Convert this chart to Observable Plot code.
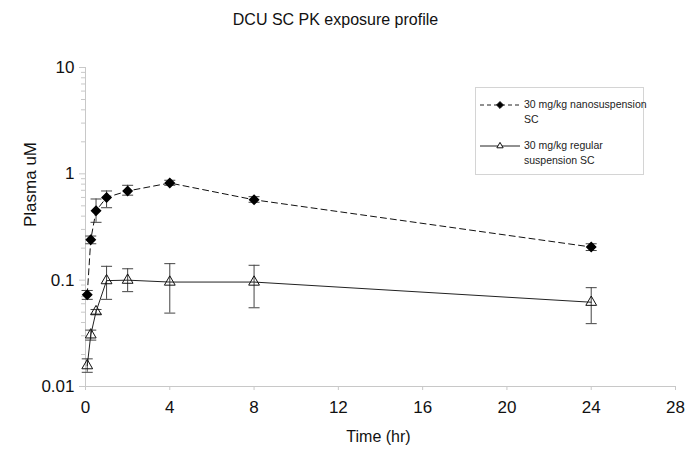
<!DOCTYPE html>
<html>
<head>
<meta charset="utf-8">
<script src="https://cdn.jsdelivr.net/npm/d3@7"></script>
<script src="https://cdn.jsdelivr.net/npm/@observablehq/plot@0.6"></script>
<style>
  html, body { margin: 0; padding: 0; background: #fff; }
  body { font-family: "Liberation Sans", Arial, sans-serif; width: 685px; height: 453px; position: relative; overflow: hidden; }
  #title { height: 40px; text-align: center; font-size: 16px; color: #111; line-height: 40px; padding-right: 14px; }
  #legend { position: absolute; left: 475px; top: 87px; width: 167px; height: 86px; border: 1px solid #d4d4d4; font-size: 10.5px; color: #222; background: #fff; }
  .entry { position: absolute; left: 3px; display: flex; align-items: flex-start; }
  .entry svg { flex: none; }
  .entry div { line-height: 15px; margin-left: 3px; white-space: nowrap; }
</style>
</head>
<body>
<div id="title">DCU SC PK exposure profile</div>
<div id="chart"></div>
<div id="legend"></div>
<script>
const times = [0.083, 0.25, 0.5, 1, 2, 4, 8, 24];
const nanoMean = [0.073, 0.24, 0.45, 0.60, 0.69, 0.82, 0.57, 0.205];
const nanoLow  = [0.066, 0.22, 0.35, 0.48, 0.63, 0.78, 0.54, 0.19];
const nanoHigh = [0.080, 0.26, 0.58, 0.69, 0.78, 0.87, 0.61, 0.22];
const regMean = [0.0157, 0.0306, 0.0506, 0.099, 0.10, 0.096, 0.096, 0.062];
const regLow  = [0.0136, 0.0273, 0.048, 0.066, 0.078, 0.049, 0.055, 0.039];
const regHigh = [0.0182, 0.0339, 0.053, 0.135, 0.128, 0.143, 0.138, 0.085];
const seriesNames = ["30 mg/kg nanosuspension SC", "30 mg/kg regular suspension SC"];
const xTicks = [0, 4, 8, 12, 16, 20, 24, 28];
const yTicks = [0.01, 0.1, 1, 10];
const yTickLabels = ["0.01", "0.1", "1", "10"];

const nano = times.map((t, i) => ({t, y: nanoMean[i], lo: nanoLow[i], hi: nanoHigh[i]}));
const reg = times.map((t, i) => ({t, y: regMean[i], lo: regLow[i], hi: regHigh[i]}));

const minorTicks = [];
for (const d of [0.01, 0.1, 1]) for (let k = 2; k <= 9; k++) minorTicks.push(d * k);

const cap = { draw(ctx, size) { const w = Math.sqrt(size / Math.PI); ctx.moveTo(-w, 0); ctx.lineTo(w, 0); } };

const errMarks = (data) => [
  Plot.ruleX(data, {x: "t", y1: "lo", y2: "hi", stroke: "#444", strokeWidth: 1}),
  Plot.dot(data, {x: "t", y: "lo", symbol: cap, r: 5.5, stroke: "#444", strokeWidth: 1}),
  Plot.dot(data, {x: "t", y: "hi", symbol: cap, r: 5.5, stroke: "#444", strokeWidth: 1})
];

const chart = Plot.plot({
  width: 685,
  height: 413,
  marginLeft: 85,
  marginRight: 10,
  marginTop: 27,
  marginBottom: 67,
  style: { fontFamily: "'Liberation Sans', Arial, sans-serif", fontSize: "16px", color: "#111", background: "#fff" },
  x: { domain: [0, 28] },
  y: { type: "log", domain: [0.01, 10] },
  marks: [
    Plot.axisY(minorTicks, { tickSize: 4, text: null, stroke: "#c8c8c8", label: null }),
    Plot.axisY(yTicks, { tickSize: 6, tickPadding: 5, tickFormat: (d) => yTickLabels[yTicks.indexOf(d)], stroke: "#c8c8c8", fontSize: 17, label: null }),
    Plot.axisX(xTicks, { tickSize: 4, tickPadding: 10, stroke: "#c8c8c8", fontSize: 17, label: null }),
    Plot.ruleX([0], { stroke: "#c8c8c8" }),
    Plot.ruleY([0.01], { stroke: "#c8c8c8" }),
    Plot.text(["Plasma uM"], { frameAnchor: "left", dx: -55, rotate: -90, fontSize: 17, fill: "#111" }),
    Plot.text(["Time (hr)"], { frameAnchor: "bottom", dy: 55, dx: -2, fontSize: 16, fill: "#111" }),
    ...errMarks(reg),
    ...errMarks(nano),
    Plot.line(nano, { x: "t", y: "y", stroke: "#111", strokeWidth: 1, strokeDasharray: "6,4" }),
    Plot.line(reg, { x: "t", y: "y", stroke: "#222", strokeWidth: 1 }),
    Plot.dot(nano, { x: "t", y: "y", symbol: "diamond2", r: 4, fill: "#000", stroke: "#000" }),
    Plot.dot(reg, { x: "t", y: "y", symbol: "triangle", r: 4, fill: "none", stroke: "#111", strokeWidth: 1 })
  ]
});
document.getElementById("chart").appendChild(chart);

// legend
const legend = document.getElementById("legend");
const entries = [
  { name: seriesNames[0], lines: ["30 mg/kg nanosuspension", "SC"], dash: "4,3", sym: "diamond", top: 9 },
  { name: seriesNames[1], lines: ["30 mg/kg regular", "suspension SC"], dash: null, sym: "triangle", top: 50 }
];
for (const e of entries) {
  const div = document.createElement("div");
  div.className = "entry";
  div.style.top = e.top + "px";
  const sym = e.sym === "diamond"
    ? d3.symbol(d3.symbolDiamond2, 30)()
    : d3.symbol(d3.symbolTriangle2, 28)();
  div.innerHTML = `<svg width="42" height="15"><line x1="1" x2="41" y1="8" y2="8" stroke="#222" ${e.dash ? `stroke-dasharray="${e.dash}"` : ""}/>` +
    `<path transform="translate(21,8)" d="${sym}" fill="${e.sym === "diamond" ? "#000" : "#fff"}" stroke="#111"/></svg>` +
    `<div>${e.lines.join("<br>")}</div>`;
  legend.appendChild(div);
}
</script>
</body>
</html>
